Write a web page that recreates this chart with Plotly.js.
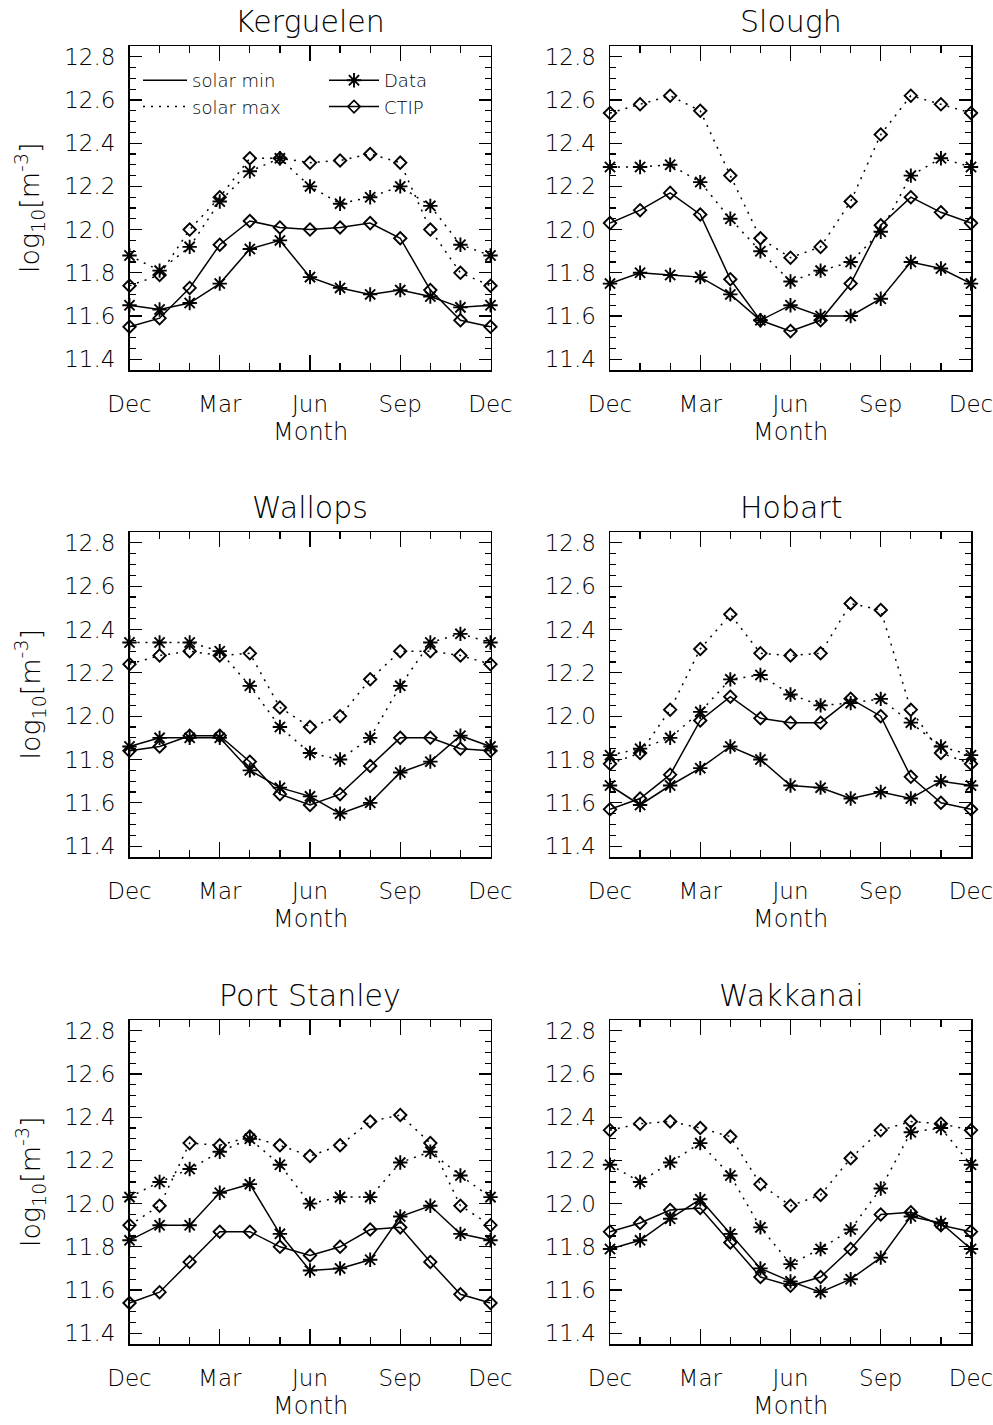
<!DOCTYPE html>
<html>
<head>
<meta charset="utf-8">
<script src="https://cdn.plot.ly/plotly-3.0.1.min.js"></script>
<style>html,body{margin:0;padding:0;background:#fff;}#chart{width:993px;height:1425px;}</style>
</head>
<body>
<div id="chart"></div>
<script>
// Month categories (Dec to Dec, 13 points)
const months = ['Dec','Jan','Feb','Mar','Apr','May','Jun','Jul','Aug','Sep','Oct','Nov','Dec'];
const tickMonths = ['Dec','Mar','Jun','Sep','Dec'];
const stations = ['Kerguelen','Slough','Wallops','Hobart','Port Stanley','Wakkanai'];

// log10 electron density [m^-3]
const kerguelenMinData = [11.65,11.63,11.66,11.75,11.91,11.95,11.78,11.73,11.70,11.72,11.69,11.64,11.65];
const kerguelenMinCTIP = [11.55,11.59,11.73,11.93,12.04,12.01,12.00,12.01,12.03,11.96,11.72,11.58,11.55];
const kerguelenMaxData = [11.88,11.81,11.92,12.13,12.27,12.33,12.20,12.12,12.15,12.20,12.11,11.93,11.88];
const kerguelenMaxCTIP = [11.74,11.79,12.00,12.15,12.33,12.33,12.31,12.32,12.35,12.31,12.00,11.80,11.74];

const sloughMinData = [11.75,11.80,11.79,11.78,11.70,11.58,11.65,11.60,11.60,11.68,11.85,11.82,11.75];
const sloughMinCTIP = [12.03,12.09,12.17,12.07,11.77,11.58,11.53,11.58,11.75,12.02,12.15,12.08,12.03];
const sloughMaxData = [12.29,12.29,12.30,12.22,12.05,11.90,11.76,11.81,11.85,11.99,12.25,12.33,12.29];
const sloughMaxCTIP = [12.54,12.58,12.62,12.55,12.25,11.96,11.87,11.92,12.13,12.44,12.62,12.58,12.54];

const wallopsMinData = [11.86,11.90,11.90,11.90,11.75,11.67,11.63,11.55,11.60,11.74,11.79,11.91,11.86];
const wallopsMinCTIP = [11.84,11.86,11.91,11.91,11.79,11.64,11.59,11.64,11.77,11.90,11.90,11.85,11.84];
const wallopsMaxData = [12.34,12.34,12.34,12.30,12.14,11.95,11.83,11.80,11.90,12.14,12.34,12.38,12.34];
const wallopsMaxCTIP = [12.24,12.28,12.30,12.28,12.29,12.04,11.95,12.00,12.17,12.30,12.30,12.28,12.24];

const hobartMinData = [11.68,11.59,11.68,11.76,11.86,11.80,11.68,11.67,11.62,11.65,11.62,11.70,11.68];
const hobartMinCTIP = [11.57,11.62,11.73,11.98,12.09,11.99,11.97,11.97,12.08,12.00,11.72,11.60,11.57];
const hobartMaxData = [11.82,11.85,11.90,12.02,12.17,12.19,12.10,12.05,12.06,12.08,11.97,11.86,11.82];
const hobartMaxCTIP = [11.78,11.83,12.03,12.31,12.47,12.29,12.28,12.29,12.52,12.49,12.03,11.83,11.78];

const portStanleyMinData = [11.83,11.90,11.90,12.05,12.09,11.86,11.69,11.70,11.74,11.94,11.99,11.86,11.83];
const portStanleyMinCTIP = [11.54,11.59,11.73,11.87,11.87,11.80,11.76,11.80,11.88,11.89,11.73,11.58,11.54];
const portStanleyMaxData = [12.03,12.10,12.16,12.24,12.30,12.18,12.00,12.03,12.03,12.19,12.24,12.13,12.03];
const portStanleyMaxCTIP = [11.90,11.99,12.28,12.27,12.31,12.27,12.22,12.27,12.38,12.41,12.28,11.99,11.90];

const wakkanaiMinData = [11.79,11.83,11.93,12.02,11.86,11.70,11.64,11.59,11.65,11.75,11.94,11.91,11.79];
const wakkanaiMinCTIP = [11.87,11.91,11.97,11.98,11.82,11.66,11.62,11.66,11.79,11.95,11.96,11.90,11.87];
const wakkanaiMaxData = [12.18,12.10,12.19,12.28,12.13,11.89,11.72,11.79,11.88,12.07,12.33,12.35,12.18];
const wakkanaiMaxCTIP = [12.34,12.37,12.38,12.35,12.31,12.09,11.99,12.04,12.21,12.34,12.38,12.37,12.34];

const seriesByStation = [
  [kerguelenMinData, kerguelenMinCTIP, kerguelenMaxData, kerguelenMaxCTIP],
  [sloughMinData, sloughMinCTIP, sloughMaxData, sloughMaxCTIP],
  [wallopsMinData, wallopsMinCTIP, wallopsMaxData, wallopsMaxCTIP],
  [hobartMinData, hobartMinCTIP, hobartMaxData, hobartMaxCTIP],
  [portStanleyMinData, portStanleyMinCTIP, portStanleyMaxData, portStanleyMaxCTIP],
  [wakkanaiMinData, wakkanaiMinCTIP, wakkanaiMaxData, wakkanaiMaxCTIP]
];

const yTickVals = [11.4,11.6,11.8,12.0,12.2,12.4,12.6,12.8];
const yRange = [11.35, 12.85];

const FONT = 'DejaVu Sans, Liberation Sans, sans-serif';
const FW = 200;
const INK = '#000';
const W = 993, H = 1425;

// panel geometry (pixels)
const colX = [[129.5, 490.5], [610, 971]];
const rowY = [[46, 370], [532, 857], [1020, 1344]];

const xIdx = months.map((m, i) => i);
const xTickVals = [0, 3, 6, 9, 12];

const dotted = '2px,6px';
const styles = [
  {dash: 'solid', symbol: 'asterisk-open', size: 12},
  {dash: 'solid', symbol: 'diamond-open', size: 9.5},
  {dash: dotted, symbol: 'asterisk-open', size: 12},
  {dash: dotted, symbol: 'diamond-open', size: 9.5}
];

const data = [];
const layout = {
  width: W, height: H,
  margin: {l: 0, r: 0, t: 0, b: 0},
  paper_bgcolor: '#fff', plot_bgcolor: '#fff',
  font: {family: FONT, color: INK, weight: FW},
  showlegend: true,
  annotations: []
};

stations.forEach((name, k) => {
  const r = Math.floor(k / 2), c = k % 2;
  const sfx = k === 0 ? '' : String(k + 1);
  const xa = 'x' + sfx, ya = 'y' + sfx;
  const xd = [colX[c][0] / W, colX[c][1] / W];
  const yd = [1 - rowY[r][1] / H, 1 - rowY[r][0] / H];

  layout['xaxis' + sfx] = {
    domain: xd, anchor: ya, range: [0, 12],
    tickmode: 'array', tickvals: xTickVals, ticktext: tickMonths,
    ticks: 'inside', ticklen: 15, tickwidth: 1.2, tickcolor: INK,
    minor: {dtick: 1, tick0: 0, ticks: 'inside', ticklen: 7, tickwidth: 1.2, tickcolor: INK, showgrid: false},
    showline: true, linecolor: INK, linewidth: 1.5, mirror: 'allticks',
    showgrid: false, zeroline: false,
    tickfont: {family: FONT, size: 23, color: INK, weight: FW},
    ticklabelstandoff: 13, ticklabeloverflow: 'allow',
    fixedrange: true
  };
  layout['yaxis' + sfx] = {
    domain: yd, anchor: xa, range: yRange,
    tickmode: 'array', tickvals: yTickVals, ticktext: yTickVals.map(v => v.toFixed(1)),
    ticks: 'inside', ticklen: 12, tickwidth: 1.2, tickcolor: INK,
    minor: {dtick: 0.05, tick0: 11.4, ticks: 'inside', ticklen: 6, tickwidth: 1.2, tickcolor: INK, showgrid: false},
    showline: true, linecolor: INK, linewidth: 1.5, mirror: 'allticks',
    showgrid: false, zeroline: false,
    tickfont: {family: FONT, size: 23, color: INK, weight: FW},
    ticklabelstandoff: 8, ticklabeloverflow: 'allow',
    fixedrange: true
  };

  seriesByStation[k].forEach((ys, j) => {
    const s = styles[j];
    data.push({
      type: 'scatter', mode: 'lines+markers',
      x: xIdx, y: ys, xaxis: xa, yaxis: ya,
      showlegend: false, cliponaxis: false,
      line: {color: INK, width: 1.5, dash: s.dash},
      marker: {symbol: s.symbol, size: s.size, color: INK, line: {color: INK, width: 1.9}}
    });
  });

  // panel title
  layout.annotations.push({
    xref: 'paper', yref: 'paper', x: (xd[0] + xd[1]) / 2, y: yd[1],
    xanchor: 'center', yanchor: 'bottom', yshift: 5, showarrow: false,
    text: name, font: {family: FONT, size: 30, color: INK, weight: FW}
  });
  // x axis title
  layout.annotations.push({
    xref: 'paper', yref: 'paper', x: (xd[0] + xd[1]) / 2, y: yd[0],
    xanchor: 'center', yanchor: 'middle', yshift: -62, showarrow: false,
    text: 'Month', font: {family: FONT, size: 24, color: INK, weight: FW}
  });
  // y axis title (left column only)
  if (c === 0) {
    layout.annotations.push({
      xref: 'paper', yref: 'paper', x: 30 / W, y: (yd[0] + yd[1]) / 2,
      xanchor: 'center', yanchor: 'middle', textangle: -90, showarrow: false,
      text: 'log<sub>10</sub>[m<sup>-3</sup>]', font: {family: FONT, size: 27, color: INK, weight: FW}
    });
  }
});

// legend entries (no data points, legend only)
data.push({type: 'scatter', mode: 'lines', x: [null], y: [null], name: 'solar min', legend: 'legend',
  line: {color: INK, width: 1.5, dash: 'solid'}});
data.push({type: 'scatter', mode: 'lines', x: [null], y: [null], name: 'solar max', legend: 'legend',
  line: {color: INK, width: 1.5, dash: dotted}});
data.push({type: 'scatter', mode: 'lines+markers', x: [null], y: [null], name: 'Data', legend: 'legend2',
  line: {color: INK, width: 1.5}, marker: {symbol: 'asterisk-open', size: 12, line: {color: INK, width: 1.9}}});
data.push({type: 'scatter', mode: 'lines+markers', x: [null], y: [null], name: 'CTIP', legend: 'legend2',
  line: {color: INK, width: 1.5}, marker: {symbol: 'diamond-open', size: 9.5, line: {color: INK, width: 1.6}}});

layout.legend = {x: 138 / W, y: 1 - 62 / H, xanchor: 'left', yanchor: 'top', xref: 'paper', yref: 'paper',
  bgcolor: 'rgba(0,0,0,0)', font: {family: FONT, size: 18, color: INK, weight: FW}, tracegroupgap: 0, itemwidth: 44};
layout.legend2 = {x: 324 / W, y: 1 - 62 / H, xanchor: 'left', yanchor: 'top', xref: 'paper', yref: 'paper',
  bgcolor: 'rgba(0,0,0,0)', font: {family: FONT, size: 18, color: INK, weight: FW}, tracegroupgap: 0, itemwidth: 50};

Plotly.newPlot('chart', data, layout, {staticPlot: true, displayModeBar: false});
</script>
</body>
</html>
